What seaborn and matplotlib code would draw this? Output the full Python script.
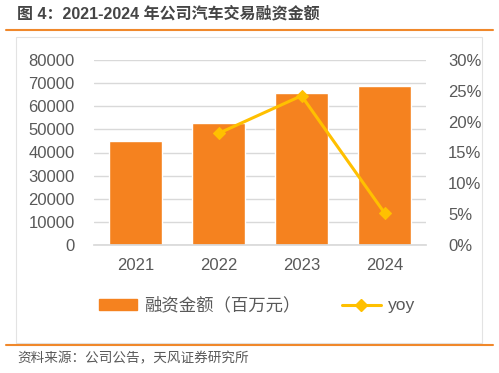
import matplotlib
matplotlib.use("Agg")
import matplotlib.pyplot as plt
import seaborn as sns
from matplotlib.lines import Line2D
from matplotlib.patches import Patch, Rectangle
from matplotlib.ticker import PercentFormatter

# Données
years = ["2021", "2022", "2023", "2024"]
financing = [45000, 52800, 65800, 68800]  # 百万元
yoy_years = ["2022", "2023", "2024"]
yoy = [18.1, 24.2, 5.2]  # %

title = "图 4：2021-2024 年公司汽车交易融资金额"
source = "资料来源：公司公告，天风证券研究所"
bar_label = "融资金额（百万元）"

BAR_COLOR = "#F5821F"
LINE_COLOR = "#FFC000"
TEXT_COLOR = "#595959"

sns.set_theme(style="white")
plt.rcParams["font.family"] = ["Liberation Sans", "Noto Sans CJK SC", "DejaVu Sans"]

fig = plt.figure(figsize=(4.99, 3.73), dpi=100)
ax = fig.add_axes([94 / 499, 1 - 245 / 373, 332 / 499, 185 / 373])

sns.barplot(x=years, y=financing, color=BAR_COLOR, saturation=1, width=0.64, ax=ax)
ax.set_ylim(0, 80000)
ax.set_yticks(range(0, 80001, 10000))
ax.yaxis.grid(True, color="#D9D9D9", linewidth=1)
ax.set_axisbelow(True)
ax.tick_params(axis="both", labelsize=12, colors=TEXT_COLOR, length=0)
ax.tick_params(axis="x", pad=9)
ax.tick_params(axis="y", pad=14)
for s in ax.spines.values():
    s.set_visible(False)
ax.spines["bottom"].set_visible(True)
ax.spines["bottom"].set_color("#D9D9D9")

ax2 = ax.twinx()
sns.lineplot(x=yoy_years, y=yoy, color=LINE_COLOR, marker="D", markersize=6,
             markeredgecolor=LINE_COLOR, linewidth=2.2, ax=ax2)
ax2.set_ylim(0, 30)
ax2.set_yticks(range(0, 31, 5))
ax2.yaxis.set_major_formatter(PercentFormatter(decimals=0))
ax2.tick_params(axis="y", labelsize=12, colors=TEXT_COLOR, length=0, pad=16)
for s in ax2.spines.values():
    s.set_visible(False)
ax.set_xlim(-0.5, 3.5)

# Légende
handles = [
    Patch(color=BAR_COLOR),
    Line2D([0], [0], color=LINE_COLOR, marker="D", markersize=6, linewidth=2.2),
]
fig.legend(handles, [bar_label, "yoy"], loc="center", bbox_to_anchor=(0.515, 1 - 305 / 373),
           ncol=2, frameon=False, fontsize=12.5, labelcolor=TEXT_COLOR,
           handlelength=2.2, handleheight=0.6, columnspacing=2.4, handletextpad=0.4)

# Cadre et lignes oranges
fig.add_artist(Rectangle((16 / 499, 1 - 343 / 373), 466 / 499, 306 / 373,
                         transform=fig.transFigure, fill=False,
                         edgecolor="#E3E3E3", linewidth=0.8))
for y in (30, 345):
    fig.add_artist(Line2D([6 / 499, 493 / 499], [1 - y / 373] * 2,
                          transform=fig.transFigure, color="#F0882B", linewidth=1.5))

fig.text(17 / 499, 1 - 14 / 373, title, fontsize=11.5, fontweight="bold",
         color="#454545", va="center", ha="left")
fig.text(17 / 499, 1 - 358 / 373, source, fontsize=9.8, color=TEXT_COLOR,
         va="center", ha="left")

fig.savefig("out.png", dpi=100)
